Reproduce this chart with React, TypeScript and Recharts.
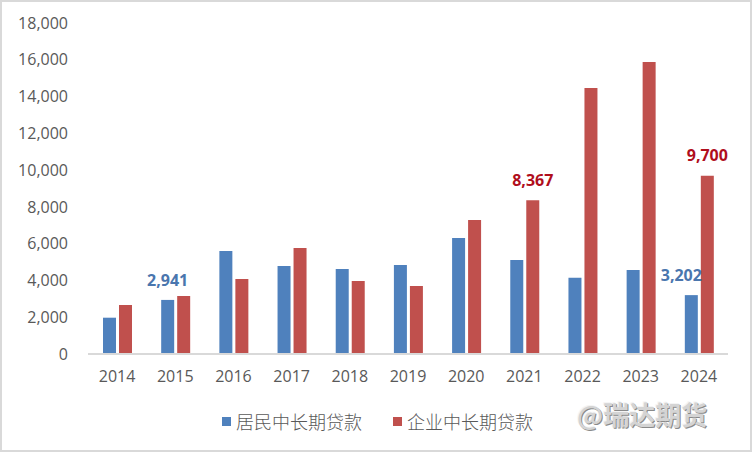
import React from "react";
import {Bar, BarChart, LabelList, XAxis, YAxis} from "recharts";

const years = ['2014', '2015', '2016', '2017', '2018', '2019', '2020', '2021', '2022', '2023', '2024'];
const householdLoans = [1974, 2941, 5600, 4785, 4622, 4840, 6308, 5111, 4150, 4568, 3202];
const corporateLoans = [2664, 3154, 4078, 5764, 3970, 3698, 7287, 8367, 14464, 15878, 9700];
const yTicks = [0, 2000, 4000, 6000, 8000, 10000, 12000, 14000, 16000, 18000];

const householdLabelYears = ['2015', '2024'];
const corporateLabelYears = ['2021', '2024'];

const BLUE = '#4F81BD';
const RED = '#C0504D';

const data = years.map((year, i) => ({
    year,
    household: householdLoans[i],
    corporate: corporateLoans[i],
}));

const fmt = (v: number) => v.toLocaleString('en-US');

const makeLabel = (labelYears: string[], color: string, shiftX: (year: string) => number) =>
    (props: any) => {
        const {x, y, width, value, index} = props;
        const year = years[index];
        if (!labelYears.includes(year)) return null;
        return (
            <text x={x + width / 2 + shiftX(year)} y={y - 20} dy="0.35em" textAnchor="middle"
                  fill={color} fontSize={16} fontWeight="bold"
                  fontFamily="'Open Sans', sans-serif">
                {fmt(value)}
            </text>
        );
    };

const legendText = {fontFamily: "'Noto Sans CJK SC', sans-serif", fontSize: 18, fontWeight: 300,
    color: '#595959', lineHeight: '26px'} as const;

const App = () => {
    return (
        <div style={{position: 'absolute', left: 0, top: 0, width: 752, height: 452, background: '#fff'}}>
            <BarChart width={752} height={452} data={data}
                      margin={{top: 23, right: 24, bottom: 68, left: 0}}
                      barSize={13} barGap={3}>
                <XAxis dataKey="year" height={30} axisLine={{stroke: '#d9d9d9', strokeWidth: 2}} tickLine={false}
                       tickSize={0} tickMargin={17}
                       tick={{fill: '#595959', fontSize: 16, fontFamily: "'Open Sans', sans-serif"}}/>
                <YAxis width={88} domain={[0, 18000]} ticks={yTicks} axisLine={false} tickLine={false}
                       tickSize={0} tickMargin={20} tickFormatter={fmt} interval={0}
                       tick={{fill: '#595959', fontSize: 16, fontFamily: "'Open Sans', sans-serif"}}/>
                <Bar dataKey="household" name="居民中长期贷款" fill={BLUE} isAnimationActive={false}>
                    <LabelList dataKey="household"
                               content={makeLabel(householdLabelYears, '#4A76AE', (yr) => yr === '2024' ? -10 : 0)}/>
                </Bar>
                <Bar dataKey="corporate" name="企业中长期贷款" fill={RED} isAnimationActive={false}>
                    <LabelList dataKey="corporate" content={makeLabel(corporateLabelYears, '#B00E1C', () => 0)}/>
                </Bar>
            </BarChart>
            {/* legend */}
            <div style={{position: 'absolute', left: 0, top: 406, width: 752, height: 30}}>
                <span style={{position: 'absolute', left: 222, top: 11, width: 9, height: 9, background: BLUE}}/>
                <span style={{...legendText, position: 'absolute', left: 236, top: 2}}>居民中长期贷款</span>
                <span style={{position: 'absolute', left: 393, top: 11, width: 9, height: 9, background: RED}}/>
                <span style={{...legendText, position: 'absolute', left: 407, top: 2}}>企业中长期贷款</span>
            </div>
            <div style={{position: 'absolute', left: 577, top: 397, fontSize: 26, fontWeight: 'bold',
                fontFamily: "'Noto Sans CJK SC', sans-serif", color: '#d4d4d4', lineHeight: '34px',
                textShadow: '1px 1px 0 #8a8a8a, -1px -1px 0 #f4f4f4'}}>
                @瑞达期货
            </div>
            <div style={{position: 'absolute', left: 0, top: 0, width: 752, height: 452, boxSizing: 'border-box',
                border: '2px solid #d9d9d9', pointerEvents: 'none'}}/>
        </div>
    );
};

export default App;
